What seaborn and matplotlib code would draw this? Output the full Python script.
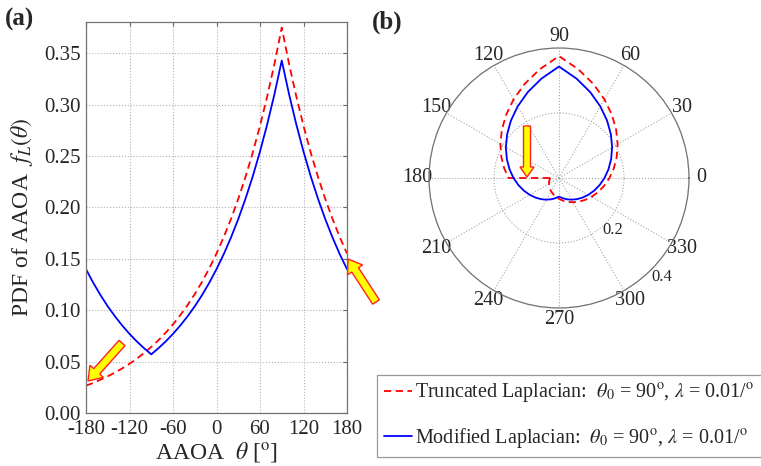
import numpy as np
import pandas as pd
import matplotlib
matplotlib.use("Agg")
import matplotlib.pyplot as plt
import seaborn as sns
from matplotlib.patches import FancyArrow
from matplotlib.transforms import IdentityTransform

# ---- data ----
theta_deg = list(range(-180, 181, 10))
trunc_pdf = [0.0266, 0.0293, 0.0324, 0.0357, 0.0394, 0.0434, 0.0479, 0.0528, 0.0583, 0.0643,
             0.0709, 0.0782, 0.0862, 0.0951, 0.1049, 0.1157, 0.1276, 0.1407, 0.1552,
             0.1712, 0.1889, 0.2083, 0.2297, 0.2534, 0.2795, 0.3083, 0.3400, 0.3750,
             0.3400, 0.3083, 0.2795, 0.2534, 0.2297, 0.2083, 0.1889, 0.1712, 0.1552]
mod_pdf = [0.1400, 0.1267, 0.1147, 0.1038, 0.0940, 0.0851, 0.0770, 0.0697, 0.0631, 0.0571,
           0.0631, 0.0697, 0.0770, 0.0851, 0.0940, 0.1038, 0.1147, 0.1267, 0.1400,
           0.1546, 0.1708, 0.1887, 0.2085, 0.2303, 0.2544, 0.2811, 0.3105, 0.3430,
           0.3105, 0.2811, 0.2544, 0.2303, 0.2085, 0.1887, 0.1708, 0.1546, 0.1400]
x_ticks = [-180, -120, -60, 0, 60, 120, 180]
y_ticks = [0.00, 0.05, 0.10, 0.15, 0.20, 0.25, 0.30, 0.35]
polar_angles = list(range(0, 360, 30))
polar_rings = [0.2, 0.4]
label_trunc = r"Truncated Laplacian:  $\theta_0$ = 90$^{\rm o}$, $\lambda$ = 0.01/$^{\rm o}$"
label_mod = r"Modified Laplacian:  $\theta_0$ = 90$^{\rm o}$, $\lambda$ = 0.01/$^{\rm o}$"

sns.set_style("white")
plt.rcParams["font.family"] = ["Liberation Serif", "DejaVu Serif"]
plt.rcParams["mathtext.fontset"] = "stix"
plt.rcParams["axes.unicode_minus"] = False

fig = plt.figure(figsize=(7.61, 4.66), dpi=100)
fig.patch.set_facecolor("white")

# ---- panel (a) ----
ax1 = fig.add_axes([86 / 761, 1 - 413 / 466, 261 / 761, 391 / 466])
df = pd.DataFrame({"theta": theta_deg, "trunc": trunc_pdf, "mod": mod_pdf})
sns.lineplot(data=df, x="theta", y="trunc", ax=ax1, color="#ff0000", lw=1.3,
             sort=False, label=label_trunc, dashes=False)
ax1.lines[-1].set_dashes((4, 2.5))
sns.lineplot(data=df, x="theta", y="mod", ax=ax1, color="#0000ff", lw=1.3,
             sort=False, label=label_mod)
handles, labels = ax1.get_legend_handles_labels()
ax1.get_legend().remove()

ax1.set_xlim(-180, 180)
ax1.set_ylim(0, 0.3805)
ax1.set_xticks(x_ticks)
ax1.set_xticklabels([str(v) for v in x_ticks])
ax1.set_yticks(y_ticks)
ax1.set_yticklabels([f"{v:.2f}" for v in y_ticks])
ax1.tick_params(labelsize=15, length=3, direction="in", color="0.4", pad=4,
                top=True, right=True)
ax1.tick_params(axis="x", pad=5)
ax1.grid(True, linestyle=":", color="0.7", lw=0.8)
for s in ax1.spines.values():
    s.set_color("0.45")
    s.set_linewidth(0.9)
ax1.set_xlabel(r"AAOA  $\theta$ [$^{\rm o}$]", fontsize=17, labelpad=1)
ax1.set_ylabel(r"PDF of AAOA  $f_L(\theta)$", fontsize=17, labelpad=6)

fig.text(5 / 761, 1 - 19 / 466, "(a)", fontsize=18, fontweight="bold", va="center")
fig.text(372 / 761, 1 - 22 / 466, "(b)", fontsize=18, fontweight="bold", va="center")

# ---- panel (b) polar ----
ax2 = fig.add_axes([429 / 761, 1 - 308 / 466, 260 / 761, 260 / 466], projection="polar")
pol_theta = np.deg2rad(np.array(theta_deg + [180]))
pol_trunc = np.array(trunc_pdf + [trunc_pdf[0]])
sns.lineplot(x=pol_theta, y=pol_trunc, ax=ax2, color="#ff0000", lw=1.3, sort=False,
             estimator=None)
ax2.lines[-1].set_dashes((4, 2.5))
sns.lineplot(x=np.deg2rad(np.array(theta_deg)), y=np.array(mod_pdf), ax=ax2,
             color="#0000ff", lw=1.3, sort=False, estimator=None)
ax2.set_xlabel("")
ax2.set_ylabel("")
ax2.set_ylim(0, 0.4)
ax2.set_yticks(polar_rings)
ax2.set_yticklabels([])
ax2.set_xticks(np.deg2rad(polar_angles))
ax2.set_xticklabels([str(a) for a in polar_angles])
ax2.tick_params(axis="x", labelsize=14.5, pad=-2)
ax2.grid(True, linestyle=":", color="0.65", lw=0.8)
ax2.spines["polar"].set_color("0.45")
ax2.spines["polar"].set_linewidth(0.9)
for r, rr in zip(polar_rings, [0.232, 0.44]):
    ax2.text(np.deg2rad(-44), rr, f"{r:.1f}", fontsize=12, ha="center", va="center")

# ---- legend ----
leg = fig.legend(handles, labels, loc="upper left",
                 bbox_to_anchor=(377 / 761, 1 - 375 / 466), borderaxespad=0,
                 fontsize=14.5, handlelength=1.4, handletextpad=0.15,
                 labelspacing=1.0, frameon=True, fancybox=False,
                 edgecolor="0.5", borderpad=0.35)
leg.get_frame().set_linewidth(0.9)

# ---- yellow arrows (pixel coordinates) ----
def arrow(x0, y0, x1, y1, w, hw, hl):
    H = 466
    a = FancyArrow(x0, H - y0, x1 - x0, -(y1 - y0), width=w, head_width=hw,
                   head_length=hl, length_includes_head=True,
                   transform=IdentityTransform(), facecolor="#ffff00",
                   edgecolor="#ff2020", lw=1.0, zorder=10)
    fig.add_artist(a)

arrow(122, 343, 88, 381, 8, 18, 13)
arrow(376, 302, 348, 259, 8, 18, 13)
arrow(527, 126, 527, 177, 7, 14, 10)

fig.savefig("out.png", dpi=100)
